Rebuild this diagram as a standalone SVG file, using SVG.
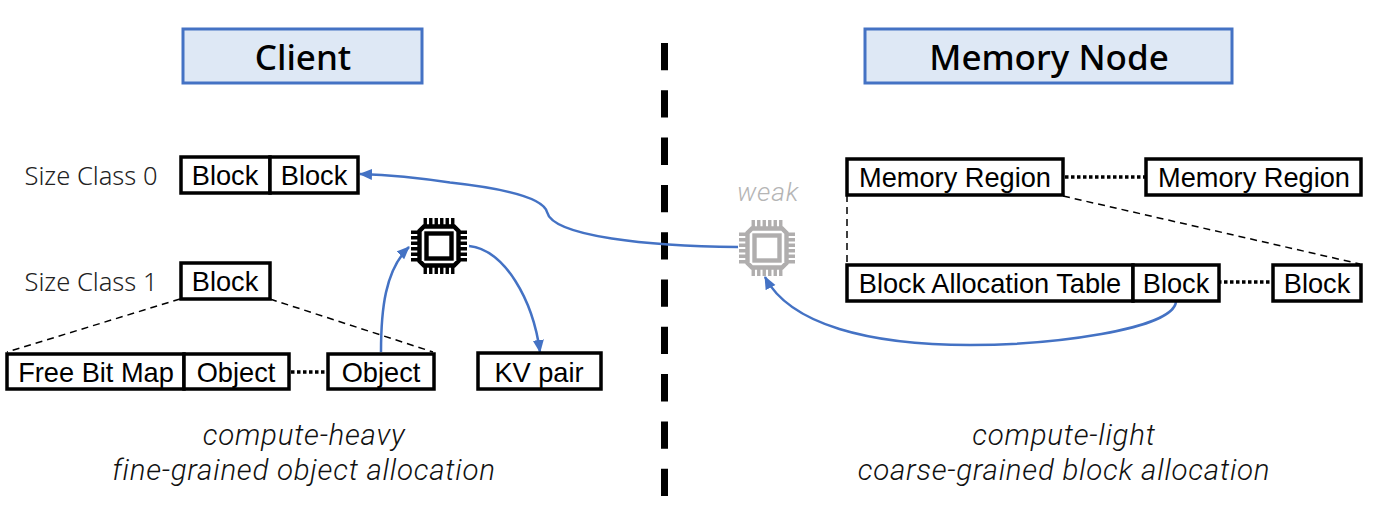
<svg xmlns="http://www.w3.org/2000/svg" width="1375" height="511" viewBox="0 0 1375 511">
<style>
.hd{fill:#dee8f5;stroke:#4472c4;stroke-width:3}
.box{fill:#fff;stroke:#000;stroke-width:3.5}
.t{font-family:"Liberation Sans",Arial,sans-serif;font-size:27.2px;fill:#000;text-anchor:middle}
.h{font-family:"Noto Sans","Liberation Sans",sans-serif;font-size:35px;font-weight:500;fill:#000;text-anchor:middle}
.s{font-family:"Noto Sans","Liberation Sans",sans-serif;font-weight:300;font-size:25.5px;fill:#222;text-anchor:middle}
.i{font-family:Roboto,"Liberation Sans",sans-serif;font-weight:300;font-style:italic;font-size:29.5px;letter-spacing:0.75px;fill:#111;text-anchor:middle}
.dash{fill:none;stroke:#000;stroke-width:1.5;stroke-dasharray:7 5}
.dot{fill:none;stroke:#000;stroke-width:3.5;stroke-dasharray:3.5 2.5}
.arr{fill:none;stroke:#4472c4;stroke-width:2.5}
</style>
<defs>
<marker id="ah" markerWidth="14" markerHeight="12" refX="12" refY="6" orient="auto" markerUnits="userSpaceOnUse"><path d="M0 0.5L13 6L0 11.5Z" fill="#4472c4"/></marker>
<g id="chip">
<path d="M-15 -19.5H15L19.5 -15V15L15 19.5H-15L-19.5 15V-15Z" fill="none" stroke="currentColor" stroke-width="4.4"/>
<rect x="-12.5" y="-12.5" width="25" height="25" fill="none" stroke="currentColor" stroke-width="4.4"/>
<path fill="none" stroke="currentColor" stroke-width="3.4" d="M-13.75 -28V-21M-8.25 -28V-21M-2.75 -28V-21M2.75 -28V-21M8.25 -28V-21M13.75 -28V-21M-13.75 21V28M-8.25 21V28M-2.75 21V28M2.75 21V28M8.25 21V28M13.75 21V28M-28 -13.75H-21M-28 -8.25H-21M-28 -2.75H-21M-28 2.75H-21M-28 8.25H-21M-28 13.75H-21M21 -13.75H28M21 -8.25H28M21 -2.75H28M21 2.75H28M21 8.25H28M21 13.75H28"/>
</g>
</defs>
<rect width="1375" height="511" fill="#fff"/>
<g id="divider"><path d="M664.5 43V497" fill="none" stroke="#000" stroke-width="7" stroke-dasharray="27.3 20"/></g>
<g id="connectors">
<path class="dash" d="M180 299L7 352M270 299L433 352M847 195V264M1063 196L1360 264"/>
<path class="dot" d="M291 372H327M1065 177H1145M1218 282H1273"/>
<path class="arr" marker-end="url(#ah)" d="M738 247C650 246 553 237 547 212C543 197 500 188 450 182.5C420 178 390 175 360 174"/>
<path class="arr" marker-end="url(#ah)" d="M381 352C381 310 385 270 409 247"/>
<path class="arr" marker-end="url(#ah)" d="M469 246C505 250 533 300 540 352"/>
<path class="arr" marker-end="url(#ah)" d="M1176 302C1172 330 1050 345 970 345C870 345 790 325 765 277"/>
</g>
<g id="client-header"><rect class="hd" x="183" y="29" width="239" height="54"/><text class="h" x="303" y="70">Client</text></g>
<g id="memory-header"><rect class="hd" x="865" y="29" width="367" height="54"/><text class="h" x="1049" y="70">Memory Node</text></g>
<g id="size0"><text class="s" x="91" y="185">Size Class 0</text></g>
<g id="size0-block-a"><rect class="box" x="181" y="157" width="89" height="36"/><text class="t" x="225" y="185">Block</text></g>
<g id="size0-block-b"><rect class="box" x="270" y="157" width="88" height="36"/><text class="t" x="314" y="185">Block</text></g>
<g id="size1"><text class="s" x="91" y="291">Size Class 1</text></g>
<g id="size1-block"><rect class="box" x="181" y="263" width="89" height="36"/><text class="t" x="225" y="291">Block</text></g>
<g id="free-bit-map"><rect class="box" x="7" y="354" width="177" height="35"/><text class="t" x="96" y="382">Free Bit Map</text></g>
<g id="object-a"><rect class="box" x="184" y="354" width="105" height="35"/><text class="t" x="236" y="382">Object</text></g>
<g id="object-b"><rect class="box" x="328" y="354" width="106" height="35"/><text class="t" x="381" y="382">Object</text></g>
<g id="kv-pair"><rect class="box" x="478" y="353" width="123" height="36"/><text class="t" x="539" y="382">KV pair</text></g>
<g id="cpu-client" color="#000"><use href="#chip" transform="translate(439 246)"/></g>
<g id="cpu-weak" color="#b0aeae"><use href="#chip" transform="translate(767 248)"/><text class="i" x="768" y="201" style="fill:#b5b5b5;font-size:26.5px">weak</text></g>
<g id="region-a"><rect class="box" x="847" y="159" width="216" height="36"/><text class="t" x="955" y="187">Memory Region</text></g>
<g id="region-b"><rect class="box" x="1146" y="159" width="215" height="36"/><text class="t" x="1254" y="187">Memory Region</text></g>
<g id="bat"><rect class="box" x="847" y="265" width="286" height="36"/><text class="t" x="990" y="293">Block Allocation Table</text></g>
<g id="block-c"><rect class="box" x="1133" y="265" width="86" height="36"/><text class="t" x="1176" y="293">Block</text></g>
<g id="block-d"><rect class="box" x="1273" y="265" width="88" height="36"/><text class="t" x="1317" y="293">Block</text></g>
<g id="left-caption"><text class="i" x="304" y="445">compute-heavy</text><text class="i" x="304" y="480">fine-grained object allocation</text></g>
<g id="right-caption"><text class="i" x="1064" y="445">compute-light</text><text class="i" x="1064" y="480">coarse-grained block allocation</text></g>
</svg>
